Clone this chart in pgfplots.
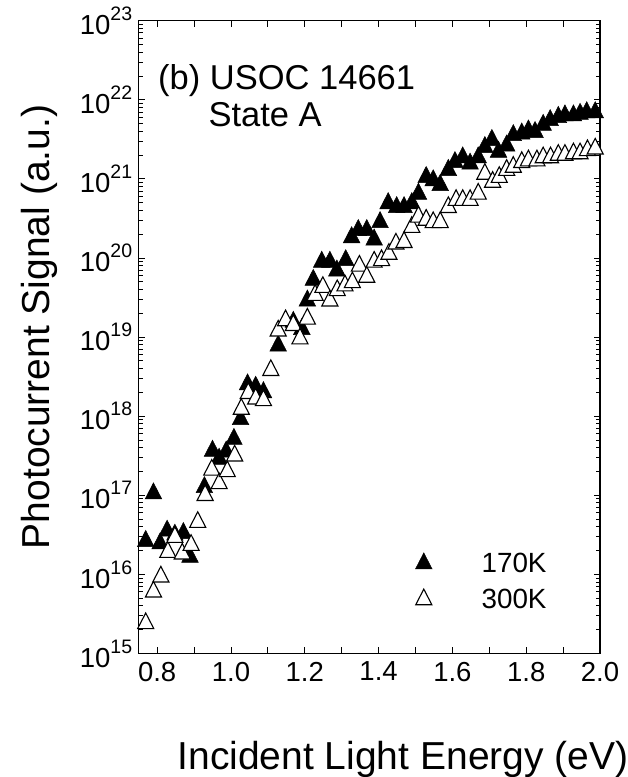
\documentclass[border=0pt]{standalone}
\usepackage{fontspec}
\setmainfont{Liberation Sans}
\usepackage{pgfplots}
\pgfplotsset{compat=1.18}
\newcommand{\ylab}[1]{10\raisebox{14pt}{\fontsize{19.5}{20}\selectfont #1}}
\begin{document}
\begin{tikzpicture}
\path[use as bounding box] (0,0) rectangle (627pt,777pt);
\begin{axis}[
  at={(138.7pt,123.5pt)}, anchor=south west,
  scale only axis, width=461.3pt, height=632.8pt,
  ymode=log, xmin=0.75, xmax=2.0, ymin=1e15, ymax=1e23,
  axis line style={line width=1.4pt},
  tick align=inside,
  xtick={0.8,0.9,1.0,1.1,1.2,1.3,1.4,1.5,1.6,1.7,1.8,1.9,2.0},
  xticklabels={0.8,,1.0,,1.2,,1.4,,1.6,,1.8,,2.0},
  ytick={1e15,1e16,1e17,1e18,1e19,1e20,1e21,1e22,1e23},
  yticklabels={\ylab{15},\ylab{16},\ylab{17},\ylab{18},\ylab{19},\ylab{20},\ylab{21},\ylab{22},\ylab{23}},
  minor ytick={2e15,3e15,4e15,5e15,6e15,7e15,8e15,9e15,
    2e16,3e16,4e16,5e16,6e16,7e16,8e16,9e16,
    2e17,3e17,4e17,5e17,6e17,7e17,8e17,9e17,
    2e18,3e18,4e18,5e18,6e18,7e18,8e18,9e18,
    2e19,3e19,4e19,5e19,6e19,7e19,8e19,9e19,
    2e20,3e20,4e20,5e20,6e20,7e20,8e20,9e20,
    2e21,3e21,4e21,5e21,6e21,7e21,8e21,9e21,
    2e22,3e22,4e22,5e22,6e22,7e22,8e22,9e22},
  major tick length=6pt, minor tick length=4pt,
  every tick/.style={line width=0.9pt, black},
  xticklabel style={font=\fontsize{27.5}{33}\selectfont, yshift=-5pt},
  yticklabel style={font=\fontsize{27.5}{33}\selectfont, xshift=-3pt},
  xlabel={Incident Light Energy (eV)},
  ylabel={Photocurrent Signal (a.u.)},
  xlabel style={at={(axis description cs:0.573,-0.1841)}, anchor=base, font=\fontsize{39}{45}\selectfont},
  ylabel style={at={(axis description cs:-0.1923,0.516)}, anchor=base, font=\fontsize{39}{45}\selectfont},
  legend style={draw=none, fill=none, inner sep=0pt, outer sep=0pt,
    nodes={inner sep=0pt},
    font=\fontsize{27.8}{33}\selectfont,
    at={(axis description cs:0.600,0.159)}, anchor=north west,
    row sep=15pt,
    /tikz/every odd column/.append style={column sep=49.5pt}},
  legend cell align=left,
]
\addplot[only marks, mark=triangle*, mark size=9.6pt,
  mark options={fill=black, draw=black, yscale=1.12, line width=0.5pt}]
coordinates {
(0.769,2.63e16) (0.790,1.05e17) (0.808,2.45e16) (0.827,3.55e16) (0.848,3.16e16)
(0.871,3.31e16) (0.889,1.66e16) (0.928,1.26e17) (0.950,3.63e17) (0.968,2.88e17)
(0.987,3.55e17) (1.008,5.13e17) (1.026,9.12e17) (1.045,2.51e18) (1.067,2.34e18)
(1.088,2.00e18) (1.128,7.76e18) (1.169,1.55e19) (1.192,1.26e19) (1.207,2.88e19)
(1.223,5.25e19) (1.246,8.91e19) (1.268,8.91e19) (1.287,6.92e19) (1.311,9.33e19)
(1.327,1.82e20) (1.345,2.24e20) (1.368,2.24e20) (1.388,1.70e20) (1.404,2.82e20)
(1.426,4.90e20) (1.449,4.37e20) (1.469,4.37e20) (1.490,4.90e20) (1.508,6.46e20)
(1.529,1.05e21) (1.548,9.55e20) (1.567,8.32e20) (1.589,1.29e21) (1.607,1.62e21)
(1.628,1.86e21) (1.648,1.55e21) (1.670,1.86e21) (1.688,2.51e21) (1.707,3.09e21)
(1.725,2.19e21) (1.747,2.63e21) (1.765,3.55e21) (1.788,3.72e21) (1.806,4.07e21)
(1.824,3.89e21) (1.846,4.79e21) (1.865,5.50e21) (1.887,6.03e21) (1.905,6.31e21)
(1.928,6.31e21) (1.946,6.61e21) (1.964,6.92e21) (1.987,6.92e21)
};
\addlegendentry{170K}
\addplot[only marks, mark=triangle*, mark size=9.3pt,
  mark options={fill=white, draw=black, yscale=1.12, line width=1.1pt}]
coordinates {
(0.769,2.40e15) (0.790,6.03e15) (0.810,9.33e15) (0.829,1.91e16) (0.848,2.95e16)
(0.868,1.82e16) (0.892,2.34e16) (0.910,4.57e16) (0.930,1.00e17) (0.948,2.09e17)
(0.968,1.41e17) (0.990,2.00e17) (1.010,3.16e17) (1.028,1.23e18) (1.047,1.95e18)
(1.067,1.66e18) (1.088,1.58e18) (1.108,3.80e18) (1.128,1.20e19) (1.148,1.62e19)
(1.169,1.41e19) (1.187,9.55e18) (1.207,1.70e19) (1.228,3.39e19) (1.249,4.27e19)
(1.268,2.88e19) (1.288,3.89e19) (1.309,4.47e19) (1.329,4.90e19) (1.348,7.94e19)
(1.368,5.75e19) (1.388,8.91e19) (1.408,9.33e19) (1.428,1.12e20) (1.447,1.51e20)
(1.469,1.58e20) (1.490,2.45e20) (1.508,3.31e20) (1.529,3.02e20) (1.548,2.82e20)
(1.567,2.82e20) (1.589,4.37e20) (1.610,5.37e20) (1.628,5.37e20) (1.648,5.37e20)
(1.670,6.46e20) (1.688,1.15e21) (1.709,9.12e20) (1.727,1.05e21) (1.747,1.29e21)
(1.765,1.41e21) (1.788,1.62e21) (1.806,1.70e21) (1.829,1.70e21) (1.846,1.86e21)
(1.866,1.86e21) (1.887,2.00e21) (1.905,2.00e21) (1.928,2.09e21) (1.946,2.09e21)
(1.966,2.29e21) (1.987,2.40e21)
};
\addlegendentry{300K}
\node[anchor=base west, inner sep=0pt, font=\fontsize{34.5}{40}\selectfont]
  at (axis description cs:0.0418,0.8905) {(b) USOC 14661};
\node[anchor=base west, inner sep=0pt, font=\fontsize{34.5}{40}\selectfont]
  at (axis description cs:0.151,0.832) {State A};
\end{axis}
\end{tikzpicture}
\end{document}
